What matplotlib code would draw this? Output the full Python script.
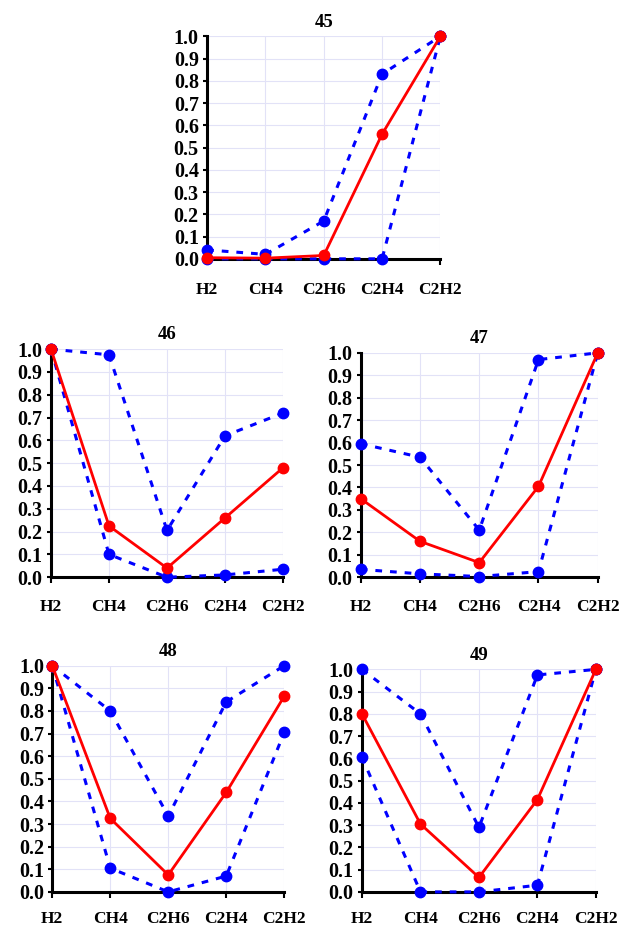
import matplotlib
matplotlib.use("Agg")
import matplotlib.pyplot as plt

GASES = ["H2", "CH4", "C2H6", "C2H4", "C2H2"]
TITLES = ["45", "46", "47", "48", "49"]

# upper bound, lower bound, mean curve for each case
UPPER = {
    "45": [0.04, 0.02, 0.17, 0.83, 1.0],
    "46": [1.0, 0.975, 0.205, 0.62, 0.72],
    "47": [0.595, 0.535, 0.21, 0.97, 1.0],
    "48": [1.0, 0.80, 0.335, 0.84, 1.0],
    "49": [1.0, 0.80, 0.29, 0.975, 1.0],
}
LOWER = {
    "45": [0.0, 0.0, 0.0, 0.0, 1.0],
    "46": [1.0, 0.10, 0.0, 0.01, 0.035],
    "47": [0.035, 0.015, 0.003, 0.025, 1.0],
    "48": [1.0, 0.105, 0.0, 0.07, 0.705],
    "49": [0.605, 0.0, 0.0, 0.03, 1.0],
}
MEAN = {
    "45": [0.005, 0.003, 0.015, 0.56, 1.0],
    "46": [1.0, 0.225, 0.04, 0.26, 0.48],
    "47": [0.35, 0.16, 0.065, 0.405, 1.0],
    "48": [1.0, 0.325, 0.075, 0.44, 0.865],
    "49": [0.80, 0.305, 0.065, 0.415, 1.0],
}

# axes boxes in figure fractions [left, bottom, width, height]
BOXES = {
    "45": [0.333, 0.722, 0.375, 0.239],
    "46": [0.082, 0.380, 0.373, 0.245],
    "47": [0.580, 0.380, 0.381, 0.241],
    "48": [0.084, 0.042, 0.373, 0.243],
    "49": [0.582, 0.042, 0.376, 0.239],
}
XPAD = {"45": 13, "46": 12, "47": 12, "48": 10, "49": 10}

plt.rcParams["font.family"] = ["Liberation Serif", "DejaVu Serif"]
plt.rcParams["font.weight"] = "bold"

fig = plt.figure(figsize=(6.22, 9.31), dpi=100)
x = list(range(len(GASES)))

for t in TITLES:
    ax = fig.add_axes(BOXES[t])
    ax.plot(x, UPPER[t], color="#0000ff", lw=2.2, ls=(0, (2.2, 2.6)),
            marker="o", ms=7.5, clip_on=False, zorder=3)
    ax.plot(x, LOWER[t], color="#0000ff", lw=2.2, ls=(0, (2.2, 2.6)),
            marker="o", ms=7.5, clip_on=False, zorder=3)
    ax.plot(x, MEAN[t], color="#ff0000", lw=2.0,
            marker="o", ms=7.5, clip_on=False, zorder=4)

    ax.set_xlim(0, 4)
    ax.set_ylim(0, 1.0)
    ax.set_xticks(x)
    ax.set_xticklabels(GASES)
    ax.set_yticks([i / 10 for i in range(11)])
    ax.set_yticklabels([f"{i / 10:.1f}" for i in range(11)])
    ax.tick_params(axis="x", length=4, width=1.5, pad=XPAD[t], labelsize=12.5)
    ax.tick_params(axis="y", length=3, width=1.5, pad=3, labelsize=14.5)
    ax.grid(True, color="#e2e2f7", lw=0.8, zorder=0)
    ax.set_axisbelow(True)
    for s in ["top", "right"]:
        ax.spines[s].set_visible(False)
    for s in ["left", "bottom"]:
        ax.spines[s].set_linewidth(2.2)
        ax.spines[s].set_zorder(2)
    ax.set_title(t, fontsize=13.5, fontweight="bold", pad=7)

fig.savefig("out.png", dpi=100)
